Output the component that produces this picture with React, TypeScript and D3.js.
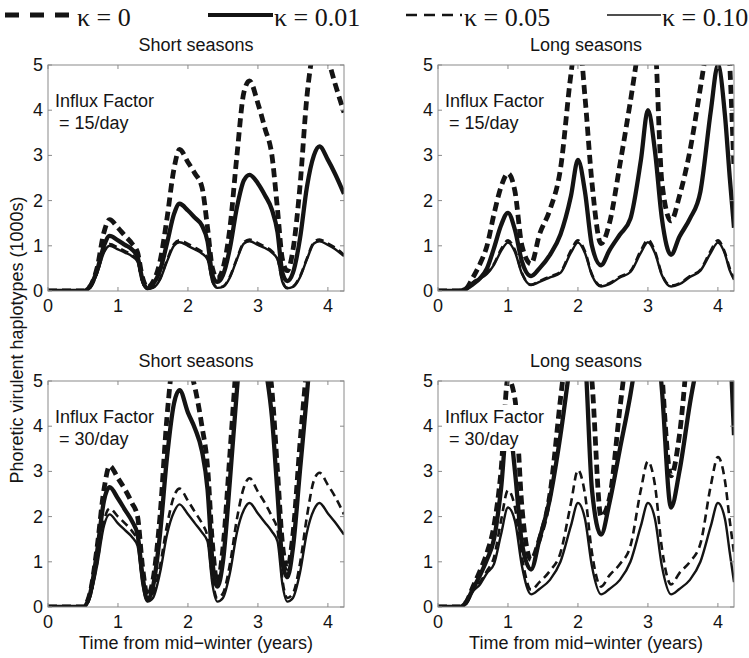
import React, { useEffect, useRef } from 'react';
import * as d3 from 'd3';

// time grids (years from mid-winter)
const shortYears = [0, 0.5, 0.6, 0.7, 0.8, 0.88, 1.0, 1.1, 1.2, 1.28, 1.35, 1.42,
  1.5, 1.6, 1.7, 1.8, 1.88, 2.0, 2.1, 2.2, 2.28, 2.35, 2.42,
  2.5, 2.6, 2.7, 2.8, 2.88, 3.0, 3.1, 3.2, 3.28, 3.35, 3.42,
  3.5, 3.6, 3.7, 3.8, 3.88, 4.0, 4.1, 4.23];
const longYears = [0, 0.3, 0.4, 0.5, 0.6, 0.7, 0.8, 0.9, 1.0, 1.1, 1.2, 1.33,
  1.45, 1.6, 1.75, 1.9, 2.0, 2.1, 2.2, 2.33,
  2.45, 2.6, 2.75, 2.9, 3.0, 3.1, 3.2, 3.33,
  3.45, 3.6, 3.75, 3.9, 4.0, 4.1, 4.17, 4.23];

// short seasons, influx 15/day
const short15_k0 = [0, 0, 0.1, 0.5, 1.3, 1.58, 1.4, 1.22, 1.05, 0.85, 0.3, 0.08,
  0.2, 0.65, 1.6, 2.7, 3.13, 2.85, 2.6, 2.3, 1.4, 0.5, 0.28,
  0.5, 1.4, 3.0, 4.4, 4.65, 4.15, 3.6, 3.0, 1.8, 0.7, 0.45,
  0.9, 2.3, 4.3, 5.4, 5.8, 5.15, 4.6, 3.95];
const short15_k1 = [0, 0, 0.1, 0.45, 1.0, 1.22, 1.12, 1.02, 0.92, 0.75, 0.25, 0.06,
  0.15, 0.45, 1.05, 1.7, 1.93, 1.78, 1.62, 1.45, 1.1, 0.35, 0.2,
  0.35, 0.95, 1.85, 2.45, 2.57, 2.38, 2.12, 1.8, 1.3, 0.4, 0.22,
  0.4, 1.15, 2.3, 3.0, 3.2, 2.9, 2.6, 2.15];
const short15_k5 = [0, 0, 0.08, 0.4, 0.88, 1.04, 0.96, 0.88, 0.8, 0.67, 0.2, 0.05,
  0.08, 0.27, 0.68, 1.04, 1.12, 1.04, 0.96, 0.87, 0.73, 0.22, 0.08,
  0.1, 0.32, 0.72, 1.08, 1.14, 1.06, 0.98, 0.88, 0.72, 0.22, 0.07,
  0.1, 0.32, 0.72, 1.08, 1.14, 1.05, 0.96, 0.8];
const short15_k10 = [0, 0, 0.08, 0.38, 0.85, 1.0, 0.92, 0.85, 0.77, 0.65, 0.2, 0.05,
  0.07, 0.25, 0.65, 1.0, 1.08, 1.0, 0.92, 0.83, 0.7, 0.2, 0.07,
  0.09, 0.3, 0.7, 1.05, 1.1, 1.02, 0.95, 0.85, 0.7, 0.2, 0.06,
  0.09, 0.3, 0.7, 1.05, 1.1, 1.02, 0.93, 0.77];

// long seasons, influx 15/day
const long15_k0 = [0, 0, 0.05, 0.3, 0.6, 1.0, 1.7, 2.3, 2.6, 2.2, 1.0, 0.6,
  1.25, 1.8, 2.7, 4.8, 5.8, 4.3, 2.4, 1.05,
  1.5, 2.8, 4.2, 5.7, 6.5, 5.6, 2.4, 1.55,
  2.1, 3.1, 4.5, 6.0, 7.0, 7.0, 5.0, 2.7];
const long15_k1 = [0, 0, 0.05, 0.15, 0.28, 0.5, 0.95, 1.45, 1.73, 1.35, 0.65, 0.33,
  0.5, 0.8, 1.25, 2.1, 2.9, 2.2, 1.0, 0.57,
  0.9, 1.25, 1.6, 2.9, 4.0, 3.1, 1.6, 0.8,
  1.2, 1.6, 2.2, 4.0, 5.0, 3.9, 2.5, 1.4];
const long15_k5 = [0, 0, 0.05, 0.2, 0.28, 0.4, 0.6, 0.92, 1.12, 0.9, 0.4, 0.14,
  0.22, 0.32, 0.42, 0.9, 1.12, 0.88, 0.37, 0.12,
  0.17, 0.32, 0.44, 0.9, 1.13, 0.88, 0.37, 0.12,
  0.17, 0.33, 0.47, 0.9, 1.12, 0.85, 0.5, 0.28];
const long15_k10 = [0, 0, 0.05, 0.2, 0.27, 0.38, 0.58, 0.88, 1.07, 0.86, 0.38, 0.13,
  0.2, 0.3, 0.4, 0.85, 1.07, 0.84, 0.35, 0.1,
  0.15, 0.3, 0.42, 0.85, 1.08, 0.84, 0.35, 0.1,
  0.15, 0.31, 0.45, 0.85, 1.07, 0.82, 0.45, 0.25];

// short seasons, influx 30/day
const short30_k0 = [0, 0, 0.3, 1.3, 2.6, 3.12, 2.85, 2.6, 2.3, 2.0, 0.9, 0.25,
  0.6, 2.0, 4.2, 5.6, 5.9, 5.4, 4.85, 4.0, 3.1, 1.4, 0.52,
  1.3, 3.4, 5.6, 7.5, 8.0, 7.2, 5.9, 4.8, 3.0, 1.4, 0.85,
  1.6, 3.6, 5.4, 7.5, 8.5, 8.5, 8.0, 7.0];
const short30_k1 = [0, 0, 0.28, 1.2, 2.35, 2.65, 2.4, 2.15, 1.9, 1.6, 0.7, 0.15,
  0.45, 1.6, 3.3, 4.5, 4.8, 4.3, 3.95, 3.45, 2.6, 1.0, 0.45,
  1.0, 2.8, 4.8, 6.5, 7.2, 6.6, 5.4, 4.2, 2.5, 1.0, 0.66,
  1.3, 3.0, 4.7, 6.5, 7.5, 7.5, 7.0, 6.5];
const short30_k5 = [0, 0, 0.25, 0.95, 1.9, 2.18, 2.0, 1.85, 1.68, 1.45, 0.6, 0.2,
  0.3, 0.9, 1.8, 2.45, 2.62, 2.35, 2.1, 1.85, 1.55, 0.6, 0.2,
  0.3, 0.95, 1.95, 2.65, 2.85, 2.55, 2.3, 2.0, 1.7, 0.6, 0.2,
  0.3, 0.95, 2.0, 2.8, 2.97, 2.7, 2.45, 2.05];
const short30_k10 = [0, 0, 0.22, 0.9, 1.8, 2.05, 1.85, 1.7, 1.55, 1.35, 0.5, 0.12,
  0.2, 0.75, 1.6, 2.1, 2.27, 2.05, 1.85, 1.65, 1.45, 0.5, 0.12,
  0.2, 0.75, 1.65, 2.15, 2.3, 2.07, 1.87, 1.67, 1.45, 0.5, 0.12,
  0.2, 0.75, 1.65, 2.15, 2.3, 2.07, 1.88, 1.6];

// long seasons, influx 30/day
const long30_k0 = [0, 0, 0.1, 0.45, 0.8, 1.2, 1.8, 3.0, 5.05, 4.6, 2.2, 1.05,
  1.5, 2.5, 4.6, 6.5, 7.5, 6.5, 5.0, 2.0,
  2.4, 4.4, 6.3, 8.0, 9.0, 8.0, 5.2, 2.9,
  3.8, 6.2, 8.0, 9.5, 10, 9.5, 8.0, 6.5];
const long30_k1 = [0, 0, 0.1, 0.4, 0.7, 1.05, 1.5, 2.6, 4.2, 3.0, 1.4, 0.83,
  1.5, 2.4, 3.8, 5.5, 6.5, 5.6, 2.6, 1.6,
  2.3, 3.5, 4.7, 6.2, 7.2, 6.5, 4.8, 2.2,
  3.0, 4.5, 5.8, 7.5, 8.5, 7.8, 6.0, 3.8];
const long30_k5 = [0, 0, 0.1, 0.38, 0.55, 0.8, 1.1, 1.9, 2.58, 2.2, 1.1, 0.38,
  0.55, 0.8, 1.2, 2.3, 3.03, 2.5, 1.2, 0.45,
  0.7, 0.95, 1.35, 2.6, 3.22, 2.7, 1.3, 0.5,
  0.75, 1.0, 1.4, 2.7, 3.32, 2.8, 1.9, 1.2];
const long30_k10 = [0, 0, 0.1, 0.35, 0.5, 0.75, 0.95, 1.6, 2.2, 1.9, 0.9, 0.28,
  0.4, 0.6, 1.0, 1.8, 2.3, 1.95, 0.9, 0.28,
  0.4, 0.6, 1.0, 1.8, 2.3, 1.95, 0.9, 0.28,
  0.4, 0.6, 1.0, 1.8, 2.3, 1.95, 1.2, 0.55];

const kappaLabels = ['κ = 0', 'κ = 0.01', 'κ = 0.05', 'κ = 0.10'];
const panelTitles = ['Short seasons', 'Long seasons', 'Short seasons', 'Long seasons'];
const influxLabels = ['= 15/day', '= 15/day', '= 30/day', '= 30/day'];
const xTicks = [0, 1, 2, 3, 4];
const yTicks = [0, 1, 2, 3, 4, 5];

const panels = [
  { left: 48, top: 65, years: shortYears, series: [short15_k0, short15_k1, short15_k5, short15_k10] },
  { left: 438, top: 65, years: longYears, series: [long15_k0, long15_k1, long15_k5, long15_k10] },
  { left: 48, top: 381, years: shortYears, series: [short30_k0, short30_k1, short30_k5, short30_k10] },
  { left: 438, top: 381, years: longYears, series: [long30_k0, long30_k1, long30_k5, long30_k10] },
];

// kappa line styles (0, 0.01, 0.05, 0.10)
const lineStyle = [
  { w: 4.8, dash: '9,5' },
  { w: 4.3, dash: null },
  { w: 2.6, dash: '8,5' },
  { w: 2.4, dash: null },
];

const W = 296, H = 226;
const sans = '"Liberation Sans", Arial, Helvetica, sans-serif';
const ink = '#141414';

export default function App() {
  const ref = useRef(null);

  useEffect(() => {
    const svg = d3.select(ref.current);
    svg.selectAll('*').remove();

    // legend
    const legX = [[5, 70, 77], [208, 273, 274], [406, 462, 464], [607, 661, 662]];
    const legStyle = [
      { w: 5, dash: '14,11' },
      { w: 4, dash: null },
      { w: 2.5, dash: '11,7' },
      { w: 1.6, dash: null },
    ];
    kappaLabels.forEach((lab, i) => {
      svg.append('line')
        .attr('x1', legX[i][0]).attr('x2', legX[i][1])
        .attr('y1', 15).attr('y2', 15)
        .attr('stroke', ink).attr('stroke-width', legStyle[i].w)
        .attr('stroke-dasharray', legStyle[i].dash);
      svg.append('text')
        .attr('x', legX[i][2]).attr('y', 26)
        .attr('font-family', '"Liberation Serif", "Times New Roman", serif')
        .attr('font-size', 26)
        .attr('fill', ink)
        .text(lab);
    });

    panels.forEach((p, pi) => {
      const x = d3.scaleLinear().domain([0, 4.23]).range([p.left, p.left + W]);
      const y = d3.scaleLinear().domain([0, 5]).range([p.top + H, p.top]);
      const g = svg.append('g');

      const clipId = 'clip' + pi;
      g.append('clipPath').attr('id', clipId)
        .append('rect').attr('x', p.left).attr('y', p.top).attr('width', W).attr('height', H);

      const line = d3.line<number>()
        .x((d, i) => x(p.years[i]))
        .y(d => y(d))
        .curve(d3.curveMonotoneX);

      const lines = g.append('g').attr('clip-path', `url(#${clipId})`);
      p.series.forEach((vals, si) => {
        lines.append('path')
          .attr('d', line(vals))
          .attr('fill', 'none')
          .attr('stroke', ink)
          .attr('stroke-width', lineStyle[si].w)
          .attr('stroke-dasharray', lineStyle[si].dash)
          .attr('stroke-linejoin', 'round');
      });

      // axes box + inward ticks
      g.append('rect')
        .attr('x', p.left).attr('y', p.top).attr('width', W).attr('height', H)
        .attr('fill', 'none').attr('stroke', '#8a8a8a').attr('stroke-width', 1);
      xTicks.forEach(t => {
        const xx = x(t);
        g.append('line').attr('x1', xx).attr('x2', xx).attr('y1', p.top + H).attr('y2', p.top + H - 4)
          .attr('stroke', '#8a8a8a');
        g.append('line').attr('x1', xx).attr('x2', xx).attr('y1', p.top).attr('y2', p.top + 4)
          .attr('stroke', '#8a8a8a');
        g.append('text').attr('x', xx).attr('y', p.top + H + 21)
          .attr('text-anchor', 'middle').attr('font-family', sans).attr('font-size', 18)
          .attr('fill', ink).text(t);
      });
      yTicks.forEach(t => {
        const yy = y(t);
        g.append('line').attr('x1', p.left).attr('x2', p.left + 4).attr('y1', yy).attr('y2', yy)
          .attr('stroke', '#8a8a8a');
        g.append('line').attr('x1', p.left + W).attr('x2', p.left + W - 4).attr('y1', yy).attr('y2', yy)
          .attr('stroke', '#8a8a8a');
        g.append('text').attr('x', p.left - 5).attr('y', yy + 6)
          .attr('text-anchor', 'end').attr('font-family', sans).attr('font-size', 18)
          .attr('fill', ink).text(t);
      });

      // title
      g.append('text').attr('x', p.left + W / 2).attr('y', p.top - 14)
        .attr('text-anchor', 'middle').attr('font-family', sans).attr('font-size', 18)
        .attr('fill', ink).text(panelTitles[pi]);

      // influx annotation, white box behind it
      g.append('rect').attr('x', p.left + 5).attr('y', p.top + 24).attr('width', 104).attr('height', 46)
        .attr('fill', 'white');
      g.append('text').attr('x', p.left + 7).attr('y', p.top + 42)
        .attr('font-family', sans).attr('font-size', 18).attr('fill', ink).text('Influx Factor');
      g.append('text').attr('x', p.left + 11).attr('y', p.top + 64)
        .attr('font-family', sans).attr('font-size', 18).attr('fill', ink).text(influxLabels[pi]);

      if (pi >= 2) {
        g.append('text').attr('x', p.left + W / 2).attr('y', p.top + H + 42)
          .attr('text-anchor', 'middle').attr('font-family', sans).attr('font-size', 18)
          .attr('fill', ink).text('Time from mid\u2212winter (years)');
      }
    });

    svg.append('text')
      .attr('transform', 'translate(23,340) rotate(-90)')
      .attr('text-anchor', 'middle').attr('font-family', sans).attr('font-size', 18)
      .attr('fill', ink).text('Phoretic virulent haplotypes (1000s)');
  }, []);

  return (
    <svg ref={ref} width={749} height={658}
      style={{ position: 'absolute', left: 0, top: 0, background: 'white' }} />
  );
}
